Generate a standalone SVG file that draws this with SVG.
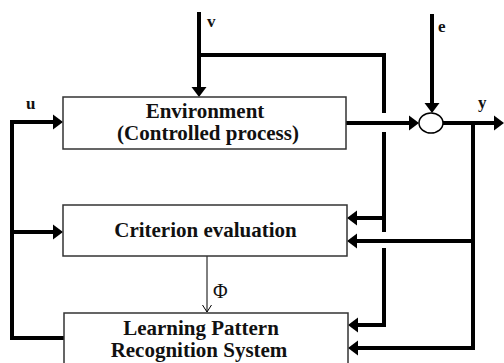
<svg xmlns="http://www.w3.org/2000/svg" width="504" height="363" viewBox="0 0 504 363">
<style>
.box{fill:#fff;stroke:#333;stroke-width:1.5}
.t{font-family:"Liberation Serif","Times New Roman",serif;font-weight:bold;font-size:21px;fill:#111;text-anchor:middle}
.lbl{font-family:"Liberation Serif","Times New Roman",serif;font-weight:bold;font-size:17px;fill:#111}
.w{fill:none;stroke:#000;stroke-width:4;stroke-linejoin:miter}
.thin{fill:none;stroke:#000;stroke-width:1}
</style>
<defs>
<marker id="ah" markerUnits="userSpaceOnUse" markerWidth="10" markerHeight="15" refX="0" refY="7.5" orient="auto" overflow="visible">
<path d="M0,0 L10,7.5 L0,15 z" fill="#000"/>
</marker>
<marker id="open" markerUnits="userSpaceOnUse" markerWidth="10" markerHeight="10" refX="7" refY="4.5" orient="auto" overflow="visible">
<path d="M0,0 L7,4.5 L0,9" fill="none" stroke="#000" stroke-width="1"/>
</marker>
</defs>
<rect width="504" height="363" fill="#fff"/>
<g id="connectors">
<path class="w" d="M199,12 V87" marker-end="url(#ah)"/>
<path class="w" d="M199,55 H384 V113"/>
<path class="w" d="M384,132 V232"/>
<path class="w" d="M384,218 H357" marker-end="url(#ah)"/>
<path class="w" d="M384,248 V325 H358" marker-end="url(#ah)"/>
<path class="w" d="M346,123 H409" marker-end="url(#ah)"/>
<path class="w" d="M432,14 V103" marker-end="url(#ah)"/>
<path class="w" d="M443,123 H494" marker-end="url(#ah)"/>
<path class="w" d="M473,123 V348 H358" marker-end="url(#ah)"/>
<path class="w" d="M473,241 H357" marker-end="url(#ah)"/>
<path class="w" d="M64,338 H12 V122 H53" marker-end="url(#ah)"/>
<path class="w" d="M12,232 H53" marker-end="url(#ah)"/>
<path class="thin" d="M207,256 V312" marker-end="url(#open)"/>
</g>
<g id="environment">
<rect class="box" x="63" y="97" width="283" height="52"/>
<text class="t" x="205" y="118">Environment</text>
<text class="t" x="208" y="140">(Controlled process)</text>
</g>
<g id="criterion">
<rect class="box" x="63" y="205" width="284" height="51"/>
<text class="t" x="205.5" y="237">Criterion evaluation</text>
</g>
<g id="learning">
<rect class="box" x="64" y="313" width="284" height="60"/>
<text class="t" x="201" y="335">Learning Pattern</text>
<text class="t" x="199" y="357">Recognition System</text>
</g>
<g id="sum">
<ellipse cx="431" cy="123" rx="12" ry="10" fill="#fff" stroke="#000" stroke-width="1.5"/>
</g>
<g id="labels">
<text class="lbl" x="207" y="27">v</text>
<text class="lbl" x="26" y="109">u</text>
<text class="lbl" x="438" y="32">e</text>
<text class="lbl" x="478" y="108">y</text>
<text x="213" y="298" style="font-family:'Liberation Serif','Times New Roman',serif;font-size:20px;fill:#111">Φ</text>
</g>
</svg>
